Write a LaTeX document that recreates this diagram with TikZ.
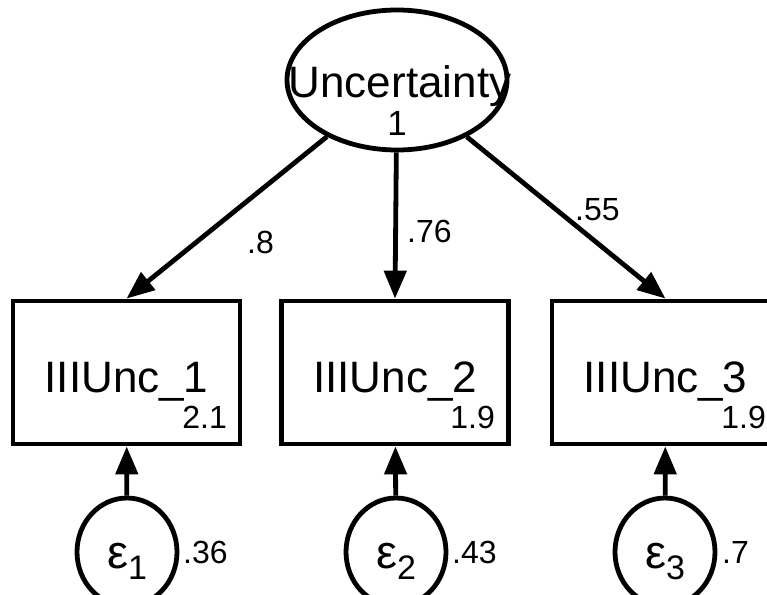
\documentclass[tikz,border=0pt]{standalone}
\usepackage{fontspec}
\setmainfont{Liberation Sans}
\usetikzlibrary{arrows.meta,shapes.geometric}
\tikzset{
  lw/.style={line width=4.8pt},
  boxnode/.style={draw,lw,minimum width=227pt,minimum height=143pt,inner sep=0pt},
  latent/.style={draw,lw,ellipse,minimum width=220pt,minimum height=140pt,inner sep=0pt},
  errnode/.style={draw,lw,ellipse,minimum width=100pt,minimum height=108pt,inner sep=0pt},
  bigtxt/.style={font=\fontsize{44}{48}\selectfont,inner sep=0pt},
  smalltxt/.style={font=\fontsize{32}{36}\selectfont,inner sep=0pt},
  path/.style={lw,-{Triangle[length=28pt,width=22pt]}}
}
\newcommand{\epsl}[1]{{\fontsize{47}{50}\selectfont ε}\raisebox{-11pt}{\fontsize{34}{38}\selectfont #1}}
\begin{document}
\begin{tikzpicture}[x=1pt,y=-1pt]
\useasboundingbox (0,0) rectangle (767,594);
\clip (0,0) rectangle (767,594);
\node[latent] (U) at (397,80) {};
\node[bigtxt,anchor=base] (Ut) at (400,97) {Uncertainty};
\node[smalltxt,font=\fontsize{35}{38}\selectfont,anchor=base] (Uv) at (397,135) {1};

\node[boxnode] (b1) at (126.5,372.5) {};
\node[boxnode] (b2) at (395,372.5) {};
\node[boxnode] (b3) at (665.5,372.5) {};

\node[bigtxt,anchor=base] (t1) at (126.5,392) {IIIUnc\_1};
\node[bigtxt,anchor=base] (t2) at (395,392) {IIIUnc\_2};
\node[bigtxt,anchor=base] (t3) at (665.5,392) {IIIUnc\_3};
\node[smalltxt,anchor=base east] (m1) at (227,428) {2.1};
\node[smalltxt,anchor=base east] (m2) at (495,428) {1.9};
\node[smalltxt,anchor=base east] (m3) at (766,428) {1.9};

\node[errnode] (e1) at (127,552) {};
\node[errnode] (e2) at (396,552) {};
\node[errnode] (e3) at (665,552) {};
\node[inner sep=0pt,anchor=base] (et1) at (127,568) {\epsl{1}};
\node[inner sep=0pt,anchor=base] (et2) at (396,568) {\epsl{2}};
\node[inner sep=0pt,anchor=base] (et3) at (665,568) {\epsl{3}};
\node[smalltxt,anchor=base west] (v1) at (183,563) {.36};
\node[smalltxt,anchor=base west] (v2) at (452,563) {.43};
\node[smalltxt,anchor=base west] (v3) at (722,563) {.7};

\draw[path] (U) -- (b1.north);
\draw[path] (U) -- (b2.north);
\draw[path] (U) -- (b3.north);
\node[smalltxt,anchor=base west] (l1) at (247,253) {.8};
\node[smalltxt,anchor=base west] (l2) at (407,242) {.76};
\node[smalltxt,anchor=base west] (l3) at (575,220) {.55};

\draw[path] (e1) -- (b1);
\draw[path] (e2) -- (b2);
\draw[path] (e3) -- (b3);
\end{tikzpicture}
\end{document}
